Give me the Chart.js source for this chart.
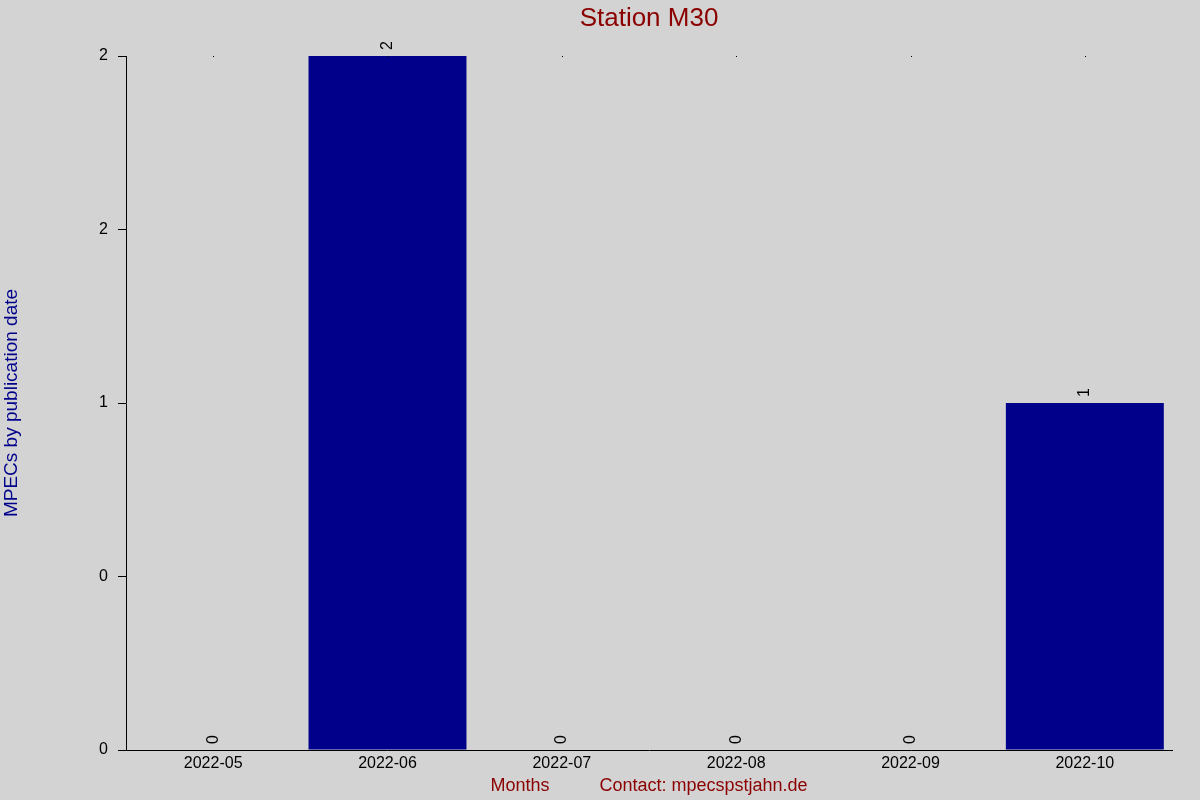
<!DOCTYPE html>
<html>
<head>
<meta charset="utf-8">
<script src="https://cdn.jsdelivr.net/npm/chart.js@4"></script>
<style>
  html, body { margin: 0; padding: 0; background: #d3d3d3; }
  #wrap { width: 1200px; height: 800px; }
</style>
</head>
<body>
<div id="wrap"><canvas id="chart"></canvas></div>
<script>
// Months on the x axis
const months = ['2022-05', '2022-06', '2022-07', '2022-08', '2022-09', '2022-10'];

// MPECs per month
const counts = [0, 2, 0, 0, 0, 1];

// Tick labels as printed on the y axis (0, 0.5, 1, 1.5, 2 rounded)
const yTickLabels = ['0', '0', '1', '2', '2'];

const FONT = "'Liberation Sans', Arial, sans-serif";

// Rotated value labels above each bar, plus the little tick dots on top
const valueLabels = {
    id: 'valueLabels',
    afterDatasetsDraw(chart) {
        const ctx = chart.ctx;
        const meta = chart.getDatasetMeta(0);
        const top = chart.chartArea.top;
        ctx.save();
        ctx.fillStyle = '#000';
        meta.data.forEach(bar => {
            ctx.fillRect(Math.round(bar.x), Math.round(top), 1, 1);
        });
        ctx.font = '16px ' + FONT;
        ctx.textAlign = 'left';
        ctx.textBaseline = 'middle';
        meta.data.forEach((bar, i) => {
            ctx.save();
            ctx.translate(bar.x, bar.y - 6);
            ctx.rotate(-Math.PI / 2);
            ctx.fillText(String(counts[i]), 0, 0);
            ctx.restore();
        });
        ctx.restore();
    }
};

new Chart(document.getElementById('chart'), {
    type: 'bar',
    data: {
        labels: months,
        datasets: [{
            data: counts,
            backgroundColor: '#00008b',
            borderWidth: 0,
            barPercentage: 0.906,
            categoryPercentage: 1
        }]
    },
    options: {
        responsive: true,
        maintainAspectRatio: false,
        animation: false,
        layout: { padding: { left: 0, right: 28, top: 0, bottom: 3 } },
        plugins: {
            legend: { display: false },
            tooltip: { enabled: false },
            title: {
                display: true,
                fullSize: false,
                text: 'Station M30',
                color: '#8b0000',
                font: { family: FONT, size: 26, weight: 'normal' },
                padding: { top: 3, bottom: 21.8 }
            }
        },
        scales: {
            x: {
                grid: { display: false, drawTicks: false },
                border: { display: true, color: '#000', width: 1 },
                ticks: {
                    color: '#000',
                    font: { family: FONT, size: 16 },
                    padding: 4,
                    maxRotation: 0
                },
                title: {
                    display: true,
                    text: 'Months          Contact: mpecspstjahn.de',
                    color: '#8b0000',
                    font: { family: FONT, size: 18 },
                    padding: 0
                },
                afterFit(scale) { scale.height = 47; }
            },
            y: {
                min: 0,
                max: 2,
                grid: {
                    drawOnChartArea: false,
                    drawTicks: true,
                    tickLength: 8,
                    color: '#000'
                },
                border: { display: true, color: '#000', width: 1 },
                ticks: {
                    stepSize: 0.5,
                    color: '#000',
                    font: { family: FONT, size: 16 },
                    padding: 10,
                    callback: (v, i) => yTickLabels[i]
                },
                title: {
                    display: true,
                    text: 'MPECs by publication date',
                    color: '#00008b',
                    font: { family: FONT, size: 19 },
                    padding: 0
                },
                afterFit(scale) { scale.width = 126; }
            }
        }
    },
    plugins: [valueLabels]
});
</script>
</body>
</html>
